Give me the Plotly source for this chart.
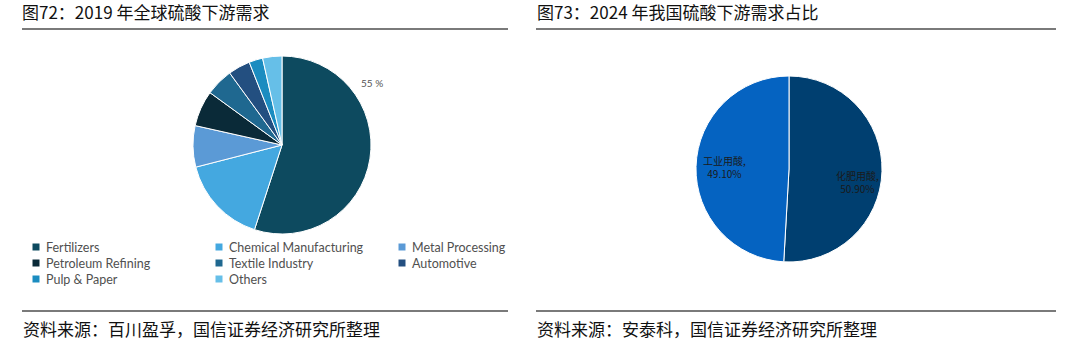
import plotly.graph_objects as go

W, H = 1080, 340

# ---- data ----
global_categories = ["Fertilizers", "Chemical Manufacturing", "Metal Processing",
                     "Petroleum Refining", "Textile Industry", "Automotive",
                     "Pulp & Paper", "Others"]
global_values = [55, 16, 7.5, 6.5, 5, 4, 2.5, 3.5]
global_colors = ["#0d4a5f", "#44a8e0", "#5b9ad6", "#0a2a38",
                 "#1f6890", "#234f80", "#1b8cc0", "#66bfe8"]

china_categories = ["化肥用酸", "工业用酸"]
china_values = [50.9, 49.1]
china_colors = ["#003f70", "#0563c1"]

left_title = "图72：2019 年全球硫酸下游需求"
right_title = "图73：2024 年我国硫酸下游需求占比"
left_source = "资料来源：百川盈孚，国信证券经济研究所整理"
right_source = "资料来源：安泰科，国信证券经济研究所整理"


def px(x):
    return x / W


def py(y):
    return 1 - y / H


CJK = "Noto Sans CJK SC"

fig = go.Figure()

fig.add_trace(go.Pie(
    labels=global_categories, values=global_values,
    marker=dict(colors=global_colors, line=dict(color="white", width=1)),
    sort=False, direction="clockwise", rotation=0,
    textinfo="none", showlegend=False,
    domain=dict(x=[px(192), px(372)], y=[py(234), py(56)]),
))

fig.add_trace(go.Pie(
    labels=china_categories, values=china_values,
    marker=dict(colors=china_colors, line=dict(color="white", width=1)),
    sort=False, direction="clockwise", rotation=0,
    textinfo="none", showlegend=False,
    domain=dict(x=[px(696), px(882)], y=[py(262), py(76)]),
))

annotations = []
shapes = []

# titles
for x, t in [(20, left_title), (535, right_title)]:
    annotations.append(dict(text=t, x=px(x), y=py(12), xref="paper", yref="paper",
                            xanchor="left", yanchor="middle", showarrow=False,
                            font=dict(family=CJK, size=17, color="#111111")))
# sources
for x, t in [(21, left_source), (535, right_source)]:
    annotations.append(dict(text=t, x=px(x), y=py(328), xref="paper", yref="paper",
                            xanchor="left", yanchor="middle", showarrow=False,
                            font=dict(family=CJK, size=17, color="#111111")))

# rules
for x0, x1 in [(22, 508), (536, 1056)]:
    for y in (29, 311):
        shapes.append(dict(type="line", xref="paper", yref="paper",
                           x0=px(x0), x1=px(x1), y0=py(y), y1=py(y),
                           line=dict(color="#7a7a7a", width=2)))

# 55 % label on the fertilizer slice
annotations.append(dict(text=f"{global_values[0]:g} %", x=px(372), y=py(83),
                        xref="paper", yref="paper", showarrow=False,
                        xanchor="center", yanchor="middle",
                        font=dict(family="Lato", size=10, color="#555555")))

# labels for china pie
label_pos = [(857, 182), (724, 167)]
for (cx, cy), name, v in zip(label_pos, china_categories, china_values):
    annotations.append(dict(text=f"{name},<br>{v:.2f}%", x=px(cx), y=py(cy),
                            xref="paper", yref="paper", showarrow=False,
                            xanchor="center", yanchor="middle", align="center",
                            font=dict(family=CJK, size=10, color="#1a1a1a")))

# manual legend for the global pie (3 columns)
for i, (name, col) in enumerate(zip(global_categories, global_colors)):
    r, c = divmod(i, 3)
    tx = 44 + c * 183
    ty = 247 + r * 16
    shapes.append(dict(type="rect", xref="paper", yref="paper",
                       x0=px(tx - 11.5), x1=px(tx - 4.5),
                       y0=py(ty + 3.5), y1=py(ty - 3.5),
                       fillcolor=col, line=dict(width=0)))
    annotations.append(dict(text=name, x=px(tx), y=py(ty), xref="paper", yref="paper",
                            xanchor="left", yanchor="middle", showarrow=False,
                            font=dict(family="Lato", size=12.5, color="#505050")))

fig.update_layout(
    width=W, height=H,
    margin=dict(l=0, r=0, t=0, b=0),
    paper_bgcolor="white", plot_bgcolor="white",
    annotations=annotations, shapes=shapes,
)

fig.write_html("out.html")
